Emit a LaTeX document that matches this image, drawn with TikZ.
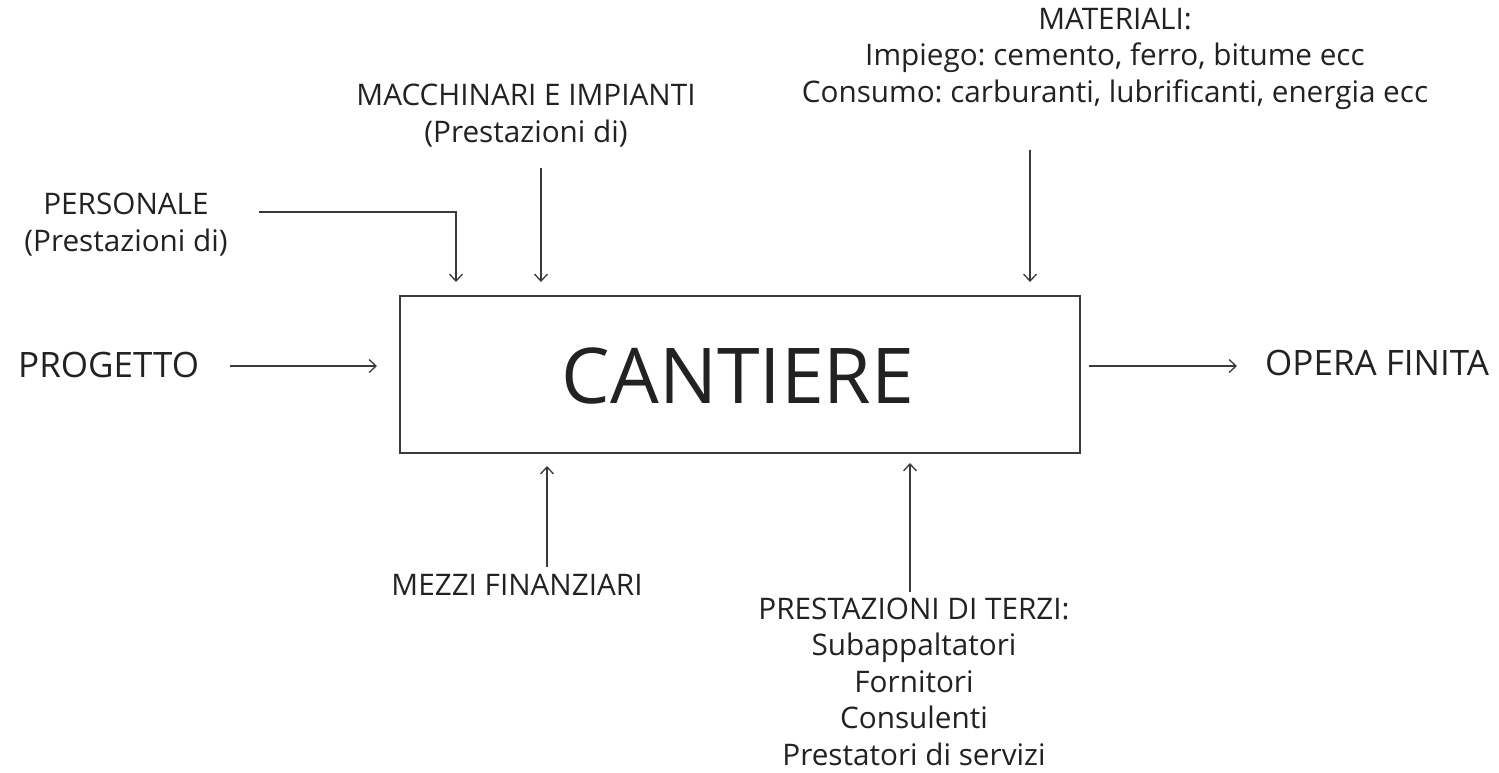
\documentclass[tikz,border=0pt]{standalone}
\usepackage{fontspec}
\setmainfont{Open Sans}
\usetikzlibrary{arrows.meta}
\definecolor{ink}{HTML}{222222}
\definecolor{wire}{HTML}{3A3A3A}
\frenchspacing
\begin{document}
\begin{tikzpicture}[x=1pt,y=-1pt,
  lbl/.style={inner sep=0pt, text=ink, font=\fontsize{29.7}{36.5}\selectfont\frenchspacing, align=center},
  side/.style={inner sep=0pt, text=ink, font=\fontsize{35}{40}\selectfont},
  arr/.style={draw=wire, line width=1.3pt, -{Straight Barb[length=7pt,width=13pt,line width=1.3pt]}}]
\useasboundingbox (0,0) rectangle (1499,772);
\node[draw=wire, line width=2pt, minimum width=680pt, minimum height=157pt, inner sep=0pt] (box) at (740,374.5) {};
\node[anchor=base, inner sep=0pt, text=ink, font=\fontsize{77}{80}\selectfont] (cant) at (738,403) {CANTIERE};
\node[side, anchor=base west] (prog) at (18,377) {PROGETTO};
\node[side, anchor=base west] (opera) at (1265,375) {OPERA FINITA};
\node[lbl, anchor=base] (pers) at (126,251) {PERSONALE\\(Prestazioni di)};
\node[lbl, anchor=base] (macc) at (526,142) {MACCHINARI E IMPIANTI\\(Prestazioni di)};
\node[lbl, anchor=base] (mat) at (1115,102) {MATERIALI:\\Impiego: cemento, ferro, bitume ecc\\Consumo: carburanti, lubrificanti, energia ecc};
\node[lbl, anchor=base] (mezzi) at (517,595) {MEZZI FINANZIARI};
\node[lbl, anchor=base] (terzi) at (914,765) {PRESTAZIONI DI TERZI:\\Subappaltatori\\Fornitori\\Consulenti\\Prestatori di servizi};
\coordinate (pgS) at (230,366);
\coordinate (opS) at (1089,366);
\coordinate (peS) at (259,212);
\coordinate (maS) at (541,168);
\coordinate (mtS) at (1030,150);
\coordinate (mzS) at (547,567);
\coordinate (tzS) at (910,592);
\draw[arr, shorten >=22pt] (pgS) -- (pgS -| box.west);
\draw[arr] (opS) -- ([xshift=148pt]opS);
\draw[arr, shorten >=13pt] (peS) -| (456,0 |- box.north);
\draw[arr, shorten >=13pt] (maS) -- (maS |- box.north);
\draw[arr, shorten >=13pt] (mtS) -- (mtS |- box.north);
\draw[arr, shorten >=12pt] (mzS) -- (mzS |- box.south);
\draw[arr, shorten >=9pt] (tzS) -- (tzS |- box.south);
\end{tikzpicture}
\end{document}
